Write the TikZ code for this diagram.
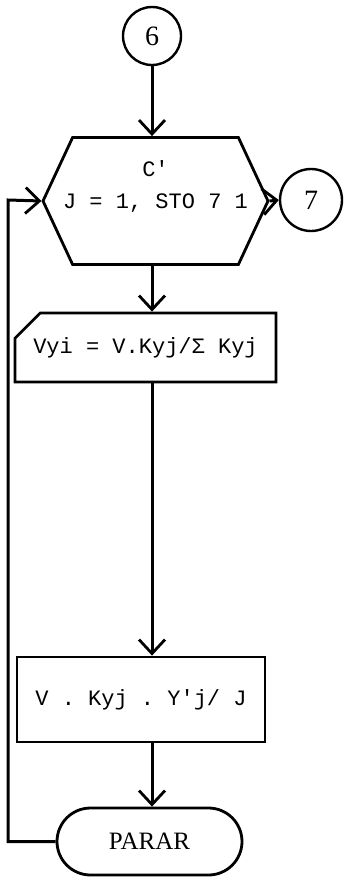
\documentclass[tikz,border=0pt]{standalone}
\usepackage{fontspec}
\setmainfont{Liberation Serif}
\setmonofont{Liberation Mono}
\usetikzlibrary{arrows.meta,positioning,shapes.misc,shapes.symbols}

\begin{document}
\begin{tikzpicture}[x=0.5pt,y=-0.5pt,>={Straight Barb[length=7pt,width=13pt,line width=1.4pt]},
 conn/.style={draw,circle,line width=1.2pt,inner sep=0pt,font=\fontsize{14}{16}\selectfont},
 loopbox/.style={draw,signal,signal to=west and east,signal pointer angle=130,line width=1.4pt,
   minimum width=112.5pt,minimum height=63.5pt,inner sep=0pt,align=center,
   font=\ttfamily\fontsize{11}{16}\selectfont},
 cardbox/.style={draw,chamfered rectangle,chamfered rectangle corners=north west,line width=1.4pt,
   chamfered rectangle xsep=9pt,chamfered rectangle ysep=7.5pt,inner sep=0pt,font=\ttfamily\fontsize{11}{13}\selectfont},
 procbox/.style={draw,rectangle,line width=1.4pt,inner sep=0pt,font=\ttfamily\fontsize{11}{13}\selectfont},
 endbox/.style={draw,rounded rectangle,line width=1.4pt,inner sep=0pt,font=\fontsize{12.5}{14}\selectfont}]
\useasboundingbox (0,0) rectangle (343,878);
\node[conn,minimum size=29pt] (c6) at (152,36) {6};
\node[loopbox] (hx) at (155.5,201) {C'\\\makebox[0pt]{J = 1, STO 7 1}\\~};
\node[conn,minimum size=31pt] (c7) at (311,200) {7};
\node[cardbox,minimum width=130.5pt,minimum height=34.5pt] (vyi) at (145.5,347.5) {Vyi = V.Kyj/Σ Kyj};
\node[procbox,minimum width=124pt,minimum height=42.5pt] (vky) at (141,699.5) {V . Kyj . Y'j/ J};
\node[endbox,minimum width=92.5pt,minimum height=33.5pt] (parar) at (149.5,841.5) {PARAR};
\coordinate (lp) at (8,200);
\draw[->,line width=1.5pt] (c6.south) -- (c6.south |- hx.north);
\draw[->,line width=1.5pt] (c6.south |- hx.south) -- (c6.south |- vyi.north);
\draw[->,line width=1.5pt] (c6.south |- vyi.south) -- (c6.south |- vky.north);
\draw[->,line width=1.5pt] (c6.south |- vky.south) -- (c6.south |- parar.north);
\draw[->,line width=1.5pt] (hx.east) -- (c7.west);
\draw[->,line width=1.5pt] (parar.west) -| (lp) -- (hx.west);
\end{tikzpicture}
\end{document}
